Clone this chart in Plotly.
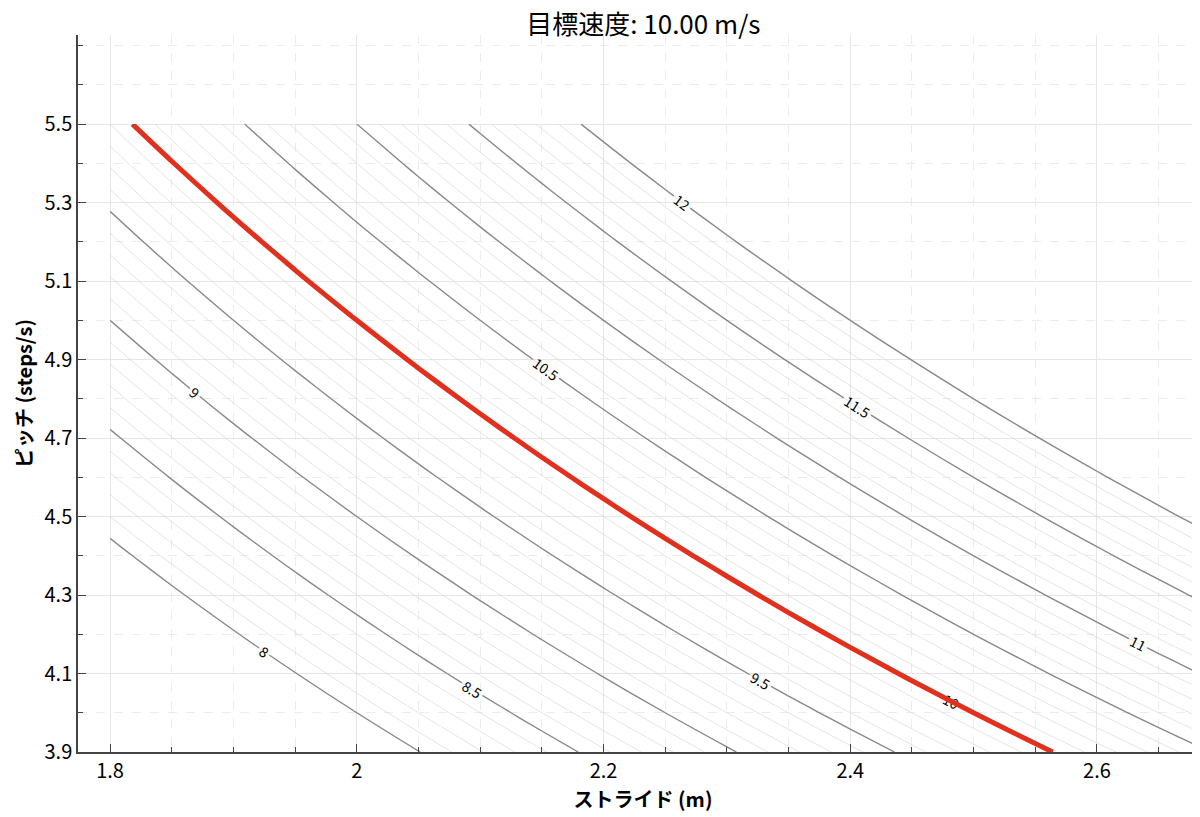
import plotly.graph_objects as go

# grid of stride (m) and pitch (steps/s); speed = stride * pitch
strides = [1.80, 1.85, 1.90, 1.95, 2.00, 2.05, 2.10, 2.15, 2.20, 2.25,
           2.30, 2.35, 2.40, 2.45, 2.50, 2.55, 2.60, 2.65, 2.70]
pitches = [3.9, 4.0, 4.1, 4.2, 4.3, 4.4, 4.5, 4.6, 4.7, 4.8,
           4.9, 5.0, 5.1, 5.2, 5.3, 5.4, 5.5]
target_speed = 10.0
speed = [[s * p for s in strides] for p in pitches]

FONT = "Noto Sans CJK JP"

fig = go.Figure()
# fine hatch lines every 0.1 m/s
fig.add_trace(go.Contour(x=strides, y=pitches, z=speed, showscale=False,
    contours=dict(coloring="lines", start=8.0, end=12.0, size=0.1),
    line=dict(width=0.6), colorscale=[[0, "#d2d2d2"], [1, "#d2d2d2"]],
    hoverinfo="skip"))
# labelled lines every 0.5 m/s
fig.add_trace(go.Contour(x=strides, y=pitches, z=speed, showscale=False,
    contours=dict(coloring="lines", start=8.0, end=12.0, size=0.5,
                  showlabels=True, labelfont=dict(size=14, color="black", family=FONT)),
    line=dict(width=1.4), colorscale=[[0, "#8a8a8a"], [1, "#8a8a8a"]]))
# target speed
fig.add_trace(go.Contour(x=strides, y=pitches, z=speed, showscale=False,
    contours=dict(coloring="lines", start=target_speed, end=target_speed, size=1),
    line=dict(width=5), colorscale=[[0, "#e0301e"], [1, "#e0301e"]]))

axis_common = dict(showline=True, linecolor="#444", linewidth=1.5, mirror=False,
                   ticks="inside", ticklen=8, tickcolor="#444",
                   showgrid=True, gridcolor="#e6e6e6", gridwidth=1, zeroline=False,
                   tickfont=dict(size=20, color="black", family=FONT),
                   minor=dict(ticks="inside", ticklen=5, tickcolor="#444",
                              showgrid=True, gridcolor="#ececec", griddash="dash"))
fig.update_xaxes(range=[1.774, 2.69], tickvals=[1.8, 2.0, 2.2, 2.4, 2.6],
                 ticktext=["1.8", "2", "2.2", "2.4", "2.6"],
                 title=dict(text="<b>ストライド (m)</b>", font=dict(size=20, family=FONT), standoff=4),
                 **axis_common)
fig.update_yaxes(range=[3.9, 5.727], tickvals=[3.9, 4.1, 4.3, 4.5, 4.7, 4.9, 5.1, 5.3, 5.5],
                 title=dict(text="<b>ピッチ (steps/s)</b>", font=dict(size=20, family=FONT), standoff=6),
                 **axis_common)
fig.update_layout(width=1200, height=817, plot_bgcolor="white", paper_bgcolor="white",
                  margin=dict(l=70, r=0, t=27, b=73, autoexpand=False), showlegend=False,
                  font=dict(family=FONT, color="black"))
fig.add_annotation(text="助走速度-踏切精度マップ (5.1m/6 steps)<br>目標速度: 10.00 m/s",
                   xref="paper", yref="paper", x=0.5, y=1.0, yshift=-8, yanchor="bottom",
                   showarrow=False, font=dict(size=26, family=FONT))
fig.write_html("out.html")
